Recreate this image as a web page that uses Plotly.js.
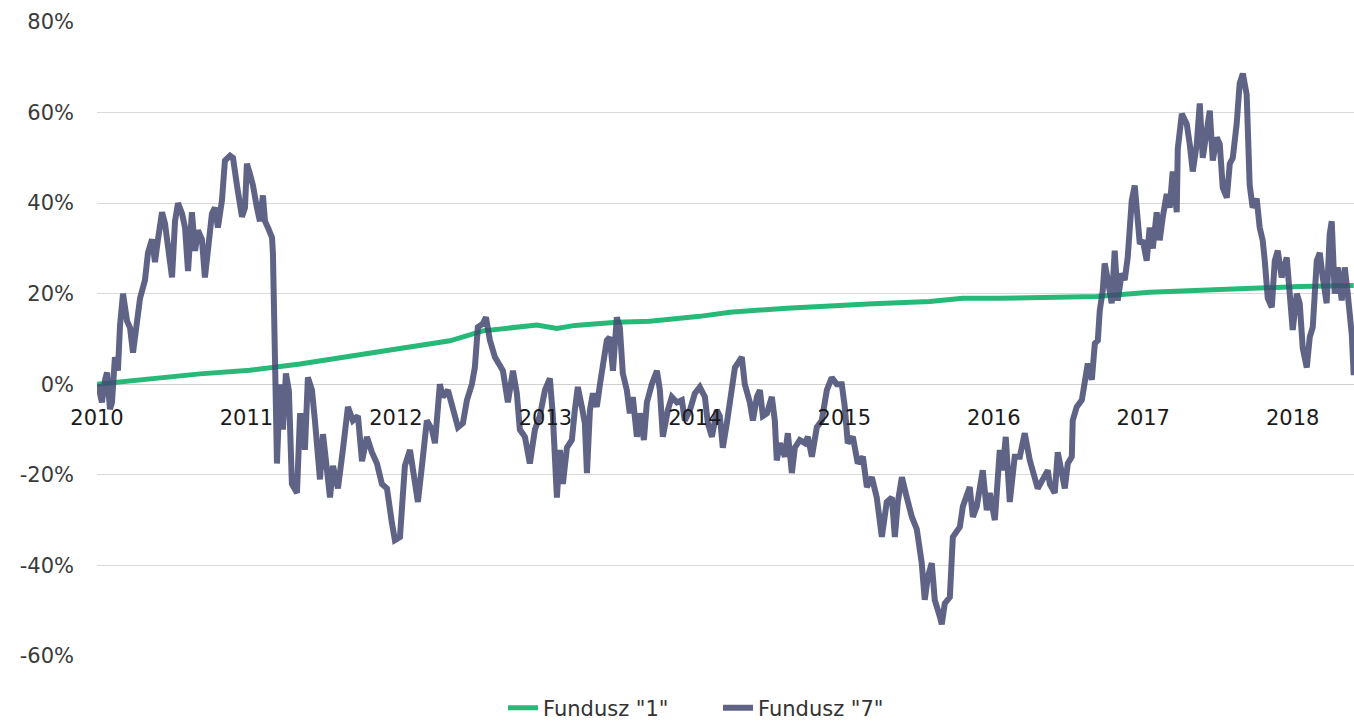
<!DOCTYPE html>
<html>
<head>
<meta charset="utf-8">
<script src="https://cdn.plot.ly/plotly-3.0.1.min.js"></script>
<style>
html,body{margin:0;padding:0;background:#fff;}
#chart{width:1354px;height:721px;}
</style>
</head>
<body>
<div id="chart"></div>
<script>
// Fundusz "1" (decimal years, % return)
const fund1Years = [2010.000,2010.087,2010.355,2010.689,2011.023,2011.191,2011.358,2011.692,2012.027,2012.361,2012.582,2012.763,2012.943,2013.077,2013.197,2013.478,2013.699,2014.033,2014.234,2014.615,2014.903,2015.191,2015.572,2015.793,2016.040,2016.375,2016.689,2017.043,2017.378,2017.645,2018.047,2018.408];
const fund1Values = [0,0.3,1.3,2.3,3.1,3.8,4.5,6.2,7.8,9.6,11.8,12.5,13.1,12.3,13.0,13.7,13.9,15.0,15.9,16.8,17.4,17.8,18.3,19.0,19.0,19.1,19.4,20.3,20.7,21.2,21.6,21.8];

// Fundusz "7" (decimal years, % return)
const fund7Years = [2010.007,2010.033,2010.054,2010.067,2010.087,2010.100,2010.120,2010.140,2010.154,2010.174,2010.201,2010.221,2010.241,2010.268,2010.288,2010.321,2010.341,2010.368,2010.388,2010.408,2010.435,2010.455,2010.475,2010.502,2010.522,2010.542,2010.569,2010.589,2010.609,2010.635,2010.656,2010.676,2010.702,2010.722,2010.742,2010.769,2010.789,2010.809,2010.836,2010.856,2010.890,2010.910,2010.936,2010.970,2010.990,
2011.003,2011.023,2011.043,2011.070,2011.090,2011.110,2011.124,2011.144,2011.171,2011.177,2011.184,2011.197,2011.204,2011.224,2011.244,2011.264,2011.284,2011.304,2011.338,2011.358,2011.378,2011.391,2011.411,2011.438,2011.458,2011.492,2011.512,2011.538,2011.559,2011.579,2011.612,2011.645,2011.679,2011.712,2011.746,2011.773,2011.806,2011.839,2011.873,2011.906,2011.940,2011.973,2011.993,
2012.027,2012.060,2012.094,2012.114,2012.147,2012.174,2012.207,2012.241,2012.261,2012.294,2012.314,2012.348,2012.381,2012.415,2012.448,2012.475,2012.508,2012.528,2012.548,2012.582,2012.602,2012.629,2012.662,2012.696,2012.716,2012.749,2012.783,2012.809,2012.829,2012.863,2012.896,2012.930,2012.963,2012.997,
2013.030,2013.050,2013.077,2013.097,2013.117,2013.144,2013.177,2013.197,2013.217,2013.244,2013.264,2013.278,2013.298,2013.318,2013.344,2013.365,2013.385,2013.411,2013.431,2013.452,2013.478,2013.498,2013.518,2013.545,2013.565,2013.585,2013.612,2013.632,2013.659,2013.679,2013.712,2013.746,2013.766,2013.786,2013.819,2013.846,2013.880,2013.913,2013.933,2013.967,
2014.000,2014.033,2014.067,2014.087,2014.114,2014.147,2014.167,2014.187,2014.214,2014.234,2014.268,2014.314,2014.334,2014.368,2014.388,2014.415,2014.435,2014.455,2014.482,2014.515,2014.535,2014.548,2014.569,2014.602,2014.622,2014.649,2014.669,2014.702,2014.736,2014.756,2014.783,2014.816,2014.849,2014.883,2014.916,2014.950,2014.983,
2015.003,2015.023,2015.057,2015.090,2015.124,2015.151,2015.184,2015.217,2015.251,2015.284,2015.318,2015.338,2015.358,2015.385,2015.418,2015.452,2015.485,2015.518,2015.538,2015.559,2015.585,2015.605,2015.639,2015.652,2015.672,2015.706,2015.726,2015.773,2015.793,2015.819,2015.839,2015.860,2015.886,2015.906,2015.926,2015.953,2015.973,
2016.007,2016.040,2016.060,2016.080,2016.107,2016.140,2016.174,2016.207,2016.241,2016.274,2016.294,2016.328,2016.361,2016.375,2016.408,2016.428,2016.455,2016.475,2016.495,2016.522,2016.528,2016.555,2016.589,2016.609,2016.629,2016.656,2016.676,2016.696,2016.709,2016.729,2016.742,2016.763,2016.789,2016.809,2016.829,2016.856,2016.876,2016.896,2016.923,2016.943,2016.963,2016.977,2016.997,
2017.023,2017.043,2017.064,2017.090,2017.110,2017.130,2017.157,2017.177,2017.197,2017.224,2017.231,2017.258,2017.291,2017.311,2017.331,2017.358,2017.378,2017.398,2017.425,2017.445,2017.465,2017.492,2017.512,2017.532,2017.559,2017.579,2017.599,2017.625,2017.645,2017.666,2017.692,2017.699,2017.712,2017.732,2017.759,2017.779,2017.799,2017.813,2017.833,2017.860,2017.880,2017.900,2017.926,2017.960,2017.980,
2018.000,2018.027,2018.047,2018.067,2018.094,2018.114,2018.134,2018.161,2018.181,2018.201,2018.227,2018.247,2018.261,2018.281,2018.301,2018.328,2018.348,2018.368,2018.395,2018.408];
const fund7Values = [0,-4,1,2.6,-5.5,-4,6,3,13,20,14,12.5,7,14,19,23,29,32,27,32,38,35.5,30,23.6,36,40,37.7,34.6,25,38,29.5,34,32,23.6,29.5,37.7,39,34.6,40.6,49.4,50.5,50,44,37,39,
48.7,46.5,44,39,36,41.7,36,34.6,32.4,29,9.7,-5,-17.5,0,-10,2.4,-1.5,-22,-24,-7,-7,-14.5,1.5,-1.3,-8,-21,-11,-17.5,-25,-18,-23,-14.5,-5,-8,-7,-17,-11.6,-15,-17.5,-22,-23,-30.6,-34.4,
-33.7,-18,-14.5,-19,-26,-18,-8,-10,-13,0,-2.8,-1.3,-5.7,-9.5,-8.6,-3.5,0,3.7,12.6,13.4,14.8,9.7,6,4,3,-4,3,-2,-10,-11.6,-17.5,-10,-7,-1.3,
1.3,-7,-25,-14.5,-22,-14,-12.3,-5.7,-0.6,-5,-8.6,-19.6,-5.7,-2,-5,0,3.7,9.7,10.4,3,14.8,12.6,2.4,-1.3,-6.4,-2.8,-11.6,-6.4,-12.3,-4,0,3,-1.3,-11.6,-5.7,-2.8,-4,-3.5,-8,-5.7,
-2,-0.6,-2.8,-8.6,-11.6,-5.7,-7,-14,-8.6,-3.5,3.7,6,0,-4,-8,-2.8,-1.3,-7,-6.4,-2.8,-8,-16.8,-13,-16,-10.8,-19.6,-14,-12.3,-13,-11.6,-16,-9.5,-8,-1.3,1.5,0,0,
-5,-13,-11.6,-17.5,-16,-22.7,-20.5,-25,-33.7,-26,-25,-33.7,-26,-20.5,-25,-29.3,-32,-39.5,-47.6,-42.5,-39.5,-47.6,-51.3,-53,-48.4,-47,-33.7,-31.5,-27,-25,-22.7,-29.3,-27,-23,-19,-27.8,-24,
-30,-14.5,-19,-11.6,-26,-16,-16,-10.8,-16.8,-20.5,-23,-21,-19,-22,-24,-15,-19,-23,-17.5,-16,-8,-5,-3.5,1.5,4.6,1,9,9.7,16.3,20.7,26.7,23,17.9,29.5,18.5,24.5,23,28,40.6,43.9,37.7,31,31.8,
27.3,34.6,30,38,31.8,36.8,42,39,47,38,52,59.7,57.5,53,47,53,62,50,56.7,60.4,49.4,54.5,53,43.4,41.2,48.7,50,57.5,66.4,68.6,64,55,44,39,41,34.6,31.8,27.3,19,17,27.3,29.5,23.6,28,21.4,
12,20,17.9,8,3.7,10.4,12.6,27.3,29,23.6,17.9,33,36,20,25.8,18.5,25.8,20,11,2];

const yearTicks = [2010,2011,2012,2013,2014,2015,2016,2017,2018];
const yearLabels = ["2010","2011","2012","2013","2014","2015","2016","2017","2018"];
const pctTicks = [-60,-40,-20,0,20,40,60,80];
const pctLabels = ["-60%","-40%","-20%","0%","20%","40%","60%","80%"];
const seriesNames = ['Fundusz "1"','Fundusz "7"'];

const traces = [
  {x: fund1Years, y: fund1Values, name: seriesNames[0], type:'scatter', mode:'lines',
   line:{color:'#26b978', width:5}, hoverinfo:'skip'},
  {x: fund7Years, y: fund7Values, name: seriesNames[1], type:'scatter', mode:'lines',
   line:{color:'rgba(67,73,114,0.85)', width:6}, hoverinfo:'skip'}
];

const layout = {
  width:1354, height:721,
  margin:{l:97, r:0, t:22, b:65, pad:0, autoexpand:false},
  paper_bgcolor:'#fff', plot_bgcolor:'#fff',
  font:{family:'DejaVu Sans, sans-serif', size:20, color:'#333'},
  showlegend:true,
  legend:{orientation:'h', x:0.323, xanchor:'left', y:-0.082, yanchor:'middle',
          font:{size:21, color:'#333'}, entrywidth:170, entrywidthmode:'pixels'},
  xaxis:{range:[2010, 2018.41], tickvals:yearTicks, ticktext:yearLabels,
         showgrid:false, zeroline:false, showline:false, ticks:'',
         anchor:'free', position:60/140, side:'bottom', ticklabelstandoff:19,
         tickfont:{size:21, color:'#1a1a1a'}, fixedrange:true},
  yaxis:{range:[-60,80], tickvals:pctTicks, ticktext:pctLabels,
         showgrid:true, gridcolor:'#d9d9d9', gridwidth:1,
         zeroline:true, zerolinecolor:'#d0d0d0', zerolinewidth:1,
         showline:false, ticks:'', ticklabelstandoff:22,
         tickfont:{size:21, color:'#3a3a3a'}, fixedrange:true}
};

Plotly.newPlot('chart', traces, layout, {displayModeBar:false, staticPlot:true});
</script>
</body>
</html>
